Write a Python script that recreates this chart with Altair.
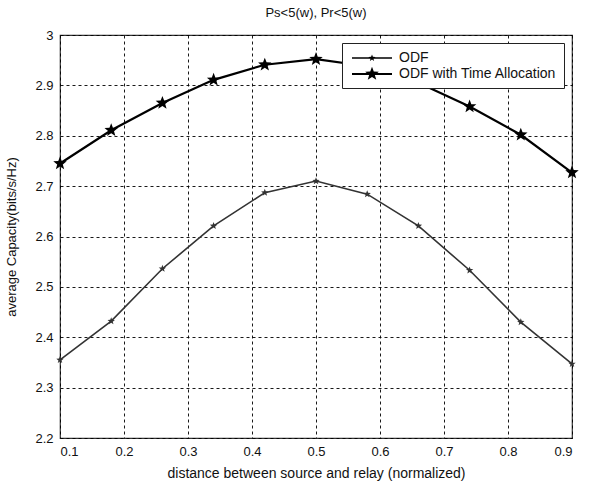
import math
import altair as alt
import pandas as pd

distance = [0.10, 0.18, 0.26, 0.34, 0.42, 0.50, 0.58, 0.66, 0.74, 0.82, 0.90]
odf = [2.355, 2.432, 2.536, 2.621, 2.687, 2.710, 2.684, 2.621, 2.533, 2.430, 2.347]
odf_ta = [2.745, 2.811, 2.865, 2.911, 2.941, 2.952, 2.938, 2.905, 2.858, 2.802, 2.727]
series_names = ["ODF", "ODF with Time Allocation"]
x_ticks = [0.1, 0.2, 0.3, 0.4, 0.5, 0.6, 0.7, 0.8, 0.9]
y_ticks = [2.2, 2.3, 2.4, 2.5, 2.6, 2.7, 2.8, 2.9, 3.0]

rows = []
for d, a, b in zip(distance, odf, odf_ta):
    rows.append({"d": d, "cap": a, "series": series_names[0]})
    rows.append({"d": d, "cap": b, "series": series_names[1]})
df = pd.DataFrame(rows)

FONT = "Liberation Sans"


def star_path(R, ri, cx=0.0):
    pts = []
    for k in range(10):
        ang = -math.pi / 2 + k * math.pi / 5
        r = R if k % 2 == 0 else ri
        pts.append((cx + r * math.cos(ang), r * math.sin(ang)))
    return "M" + "L".join(f"{x:.3f},{y:.3f}" for x, y in pts) + "Z"


STAR = star_path(1.0, 0.42)

# legend symbol: 16px nominal symbol (8 px per unit), line drawn 40px long
LEG_SIZE = 256


def legend_symbol(half_thick, R):
    x0, x1, cx = -0.625, 4.375, 1.875
    line = f"M{x0},{-half_thick}L{x1},{-half_thick}L{x1},{half_thick}L{x0},{half_thick}Z"
    return line + star_path(R, R * 0.42, cx)


x_scale = alt.Scale(domain=[0.1, 0.9], nice=False, zero=False)
y_scale = alt.Scale(domain=[2.2, 3.0], nice=False, zero=False)

x_enc = alt.X("d:Q", scale=x_scale,
              axis=alt.Axis(values=x_ticks, format=".1f",
                            title="distance between source and relay (normalized)",
                            grid=True, gridDash=[3, 3], gridColor="#000000", gridOpacity=0.9,
                            ticks=False, domain=False, labelPadding=7, titlePadding=8,
                            labelFont=FONT, labelFontSize=13, labelColor="#111",
                            titleFont=FONT, titleFontSize=14, titleFontWeight="normal",
                            titleColor="#111"))
y_enc = alt.Y("cap:Q", scale=y_scale,
              axis=alt.Axis(values=y_ticks, labelExpr="datum.value == 3 ? '3' : format(datum.value, '.1f')",
                            title="average Capacity(bits/s/Hz)",
                            grid=True, gridDash=[3, 3], gridColor="#000000", gridOpacity=0.9,
                            ticks=False, domain=False, labelPadding=7, titlePadding=16,
                            labelFont=FONT, labelFontSize=13, labelColor="#111",
                            titleFont=FONT, titleFontSize=13, titleFontWeight="normal",
                            titleColor="#111"))

base = alt.Chart(df)

line_odf = base.transform_filter(alt.datum.series == series_names[0]).mark_line(
    color="#333333", strokeWidth=1.6).encode(x=x_enc, y=y_enc)
line_ta = base.transform_filter(alt.datum.series == series_names[1]).mark_line(
    color="#000000", strokeWidth=2.2).encode(x="d:Q", y="cap:Q")
pts_odf = base.transform_filter(alt.datum.series == series_names[0]).mark_point(
    filled=True, opacity=1, shape=STAR, size=60, color="#333333").encode(x="d:Q", y="cap:Q")
pts_ta = base.transform_filter(alt.datum.series == series_names[1]).mark_point(
    filled=True, opacity=1, shape=STAR, size=200, color="#000000").encode(x="d:Q", y="cap:Q")

legend_layer = base.transform_filter("false").mark_point(
    filled=True, opacity=1, color="#000000", size=LEG_SIZE
).encode(
    x="d:Q", y="cap:Q",
    shape=alt.Shape("series:N",
                    scale=alt.Scale(domain=series_names,
                                    range=[legend_symbol(0.1, 0.45), legend_symbol(0.14, 0.9)]),
                    legend=alt.Legend(title=None, orient="none", legendX=282, legendY=8,
                                      symbolSize=LEG_SIZE, symbolFillColor="#000000",
                                      symbolStrokeWidth=0,
                                      labelFont=FONT, labelFontSize=14, labelColor="#111",
                                      labelOffset=34, rowPadding=1,
                                      strokeColor="#222", fillColor="white", padding=7,
                                      cornerRadius=0)),
)

chart = alt.layer(line_odf, line_ta, pts_odf, pts_ta, legend_layer).properties(
    width=512, height=403,
    autosize="none",
    padding={"left": 60, "top": 35, "right": 18, "bottom": 45},
    title=alt.Title("Ps<5(w), Pr<5(w)", font=FONT, fontSize=13, fontWeight="normal",
                    color="#111", offset=9),
).configure_view(stroke="#333", strokeWidth=1.2)

chart.save("out.html", embed_options={"renderer": "svg", "actions": False})
